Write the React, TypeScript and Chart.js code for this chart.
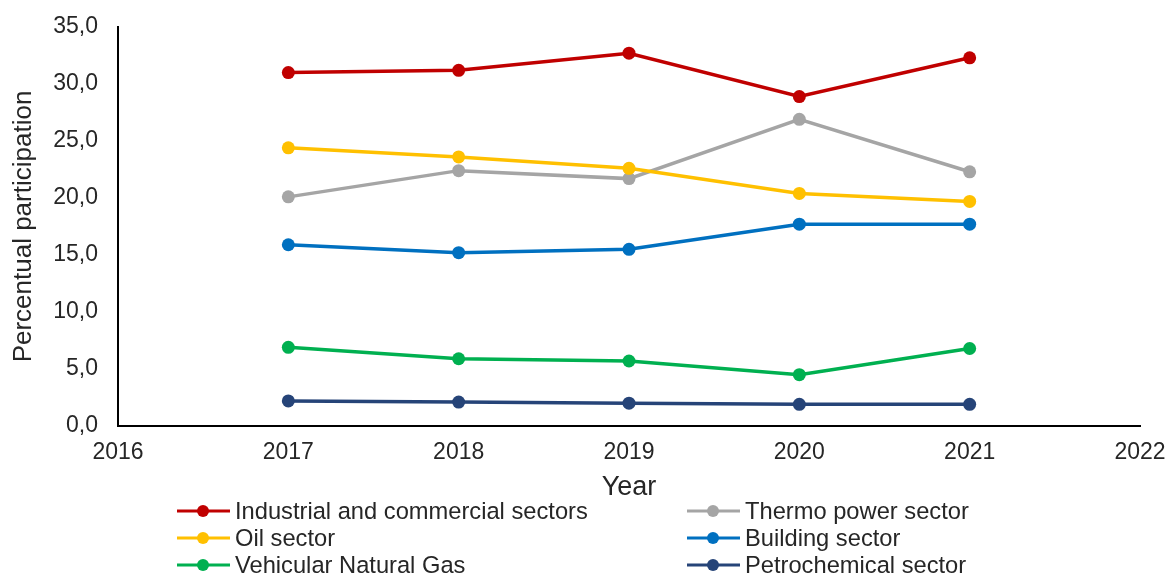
import React, { useEffect, useRef } from "react";
import { Chart, registerables } from "chart.js";

Chart.register(...registerables);

const years = [2017, 2018, 2019, 2020, 2021];
const industrial = [31.0, 31.2, 32.7, 28.9, 32.3];
const thermo = [20.1, 22.4, 21.7, 26.9, 22.3];
const oil = [24.4, 23.6, 22.6, 20.4, 19.7];
const building = [15.9, 15.2, 15.5, 17.7, 17.7];
const vehicular = [6.9, 5.9, 5.7, 4.5, 6.8];
const petrochemical = [2.2, 2.1, 2.0, 1.9, 1.9];

const seriesNames = [
  "Industrial and commercial sectors",
  "Thermo power sector",
  "Oil sector",
  "Building sector",
  "Vehicular Natural Gas",
  "Petrochemical sector",
];
const seriesValues = [industrial, thermo, oil, building, vehicular, petrochemical];
const seriesColors = ["#C00000", "#A5A5A5", "#FFC000", "#0070C0", "#00B050", "#264478"];

const xMin = 2016;
const xMax = 2022;
const yMin = 0;
const yMax = 35;
const yStep = 5;

const FONT = "'Liberation Sans', Arial, sans-serif";
const TEXT = "#262626";

const legendPlugin = {
  id: "twoColLegend",
  afterDraw(chart: any) {
    const ctx = chart.ctx;
    const base = chart.scales.x.bottom;
    const cols = [177, 687];
    const rows = [base + 5, base + 32, base + 59];
    ctx.save();
    ctx.font = `23.7px ${FONT}`;
    ctx.textBaseline = "middle";
    ctx.textAlign = "left";
    seriesNames.forEach((name, i) => {
      const cx = cols[i % 2];
      const cy = rows[Math.floor(i / 2)];
      ctx.strokeStyle = seriesColors[i];
      ctx.lineWidth = 3;
      ctx.beginPath();
      ctx.moveTo(cx, cy);
      ctx.lineTo(cx + 53, cy);
      ctx.stroke();
      ctx.fillStyle = seriesColors[i];
      ctx.beginPath();
      ctx.arc(cx + 26, cy, 6, 0, Math.PI * 2);
      ctx.fill();
      ctx.fillStyle = TEXT;
      ctx.fillText(name, cx + 58, cy + 1);
    });
    ctx.restore();
  },
};

export default function App() {
  const ref = useRef<HTMLCanvasElement | null>(null);
  useEffect(() => {
    if (!ref.current) return;
    const chart = new Chart(ref.current, {
      type: "line",
      data: {
        datasets: seriesNames.map((name, i) => ({
          label: name,
          data: years.map((y, j) => ({ x: y, y: seriesValues[i][j] })),
          borderColor: seriesColors[i],
          backgroundColor: seriesColors[i],
          pointBackgroundColor: seriesColors[i],
          pointBorderColor: seriesColors[i],
          borderWidth: 3.5,
          pointRadius: 6.5,
          pointBorderWidth: 0,
          tension: 0,
          order: seriesNames.length - i,
        })),
      },
      options: {
        animation: false,
        responsive: false,
        maintainAspectRatio: false,
        layout: { padding: { top: 27, right: 26, bottom: 69, left: 0 } },
        plugins: {
          legend: { display: false },
          tooltip: { enabled: false },
        },
        scales: {
          x: {
            type: "linear",
            min: xMin,
            max: xMax,
            grid: { display: false, drawTicks: false },
            border: { display: true, color: "#000", width: 2 },
            ticks: {
              stepSize: 1,
              padding: 13,
              color: TEXT,
              font: { family: FONT, size: 23 },
              callback: (v: any) => String(v),
              maxRotation: 0,
            },
            title: {
              display: true,
              text: "Year",
              color: TEXT,
              font: { family: FONT, size: 27 },
              padding: { top: 0, bottom: 2 },
            },
            afterFit: (s: any) => {
              s.height = 80;
              s.paddingLeft = 0;
              s.paddingRight = 0;
            },
          },
          y: {
            type: "linear",
            min: yMin,
            max: yMax,
            grid: { display: false, drawTicks: false },
            border: { display: true, color: "#000", width: 2 },
            ticks: {
              stepSize: yStep,
              padding: 20,
              color: TEXT,
              font: { family: FONT, size: 23 },
              callback: (v: any) => Number(v).toFixed(1).replace(".", ","),
            },
            title: {
              display: true,
              text: "Percentual participation",
              color: TEXT,
              font: { family: FONT, size: 26 },
              padding: { top: 8, bottom: 0 },
            },
            afterFit: (s: any) => {
              s.width = 118;
              s.paddingTop = 0;
              s.paddingBottom = 0;
            },
          },
        },
      },
      plugins: [legendPlugin],
    });
    return () => chart.destroy();
  }, []);
  return (
    <div style={{ position: "absolute", left: 0, top: 0, width: 1166, height: 575, background: "#fff" }}>
      <canvas ref={ref} width={1166} height={575} style={{ width: 1166, height: 575, display: "block" }} />
    </div>
  );
}
